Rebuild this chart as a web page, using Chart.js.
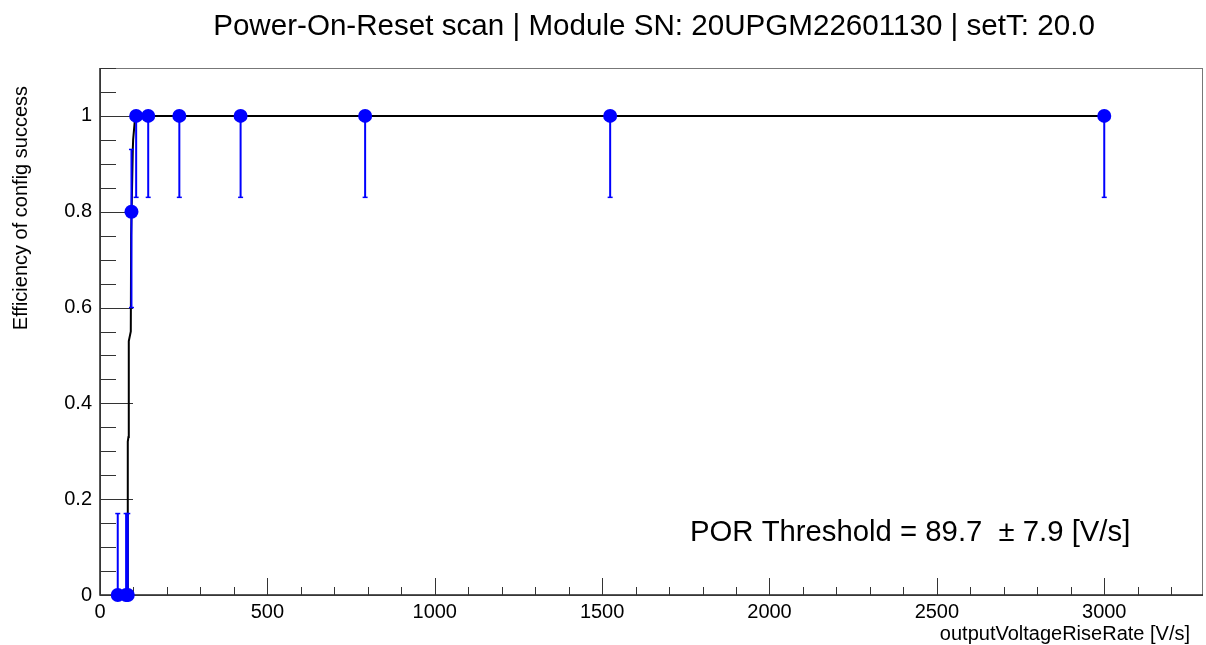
<!DOCTYPE html>
<html>
<head>
<meta charset="utf-8">
<script src="https://cdn.jsdelivr.net/npm/chart.js@4.4.1/dist/chart.umd.min.js"></script>
<style>
html,body{margin:0;padding:0;background:#fff;}
#wrap{position:relative;width:1206px;height:645px;}
</style>
</head>
<body>
<div id="wrap"><canvas id="c" width="1206" height="645"></canvas></div>
<script>
// ---- data ----
const riseRate   = [53, 78, 83, 94, 108, 144, 237, 420, 792, 1524, 3000];   // V/s
const efficiency = [0, 0, 0, 0.8, 1, 1, 1, 1, 1, 1, 1];
const effLow     = [0, 0, 0, 0.60, 0.83, 0.83, 0.83, 0.83, 0.83, 0.83, 0.83];
const effHigh    = [0.17, 0.17, 0.17, 0.93, 1, 1, 1, 1, 1, 1, 1];

const fitX = [50, 82, 83, 85, 86, 92, 93, 98, 99, 104, 105, 3000];
const fitY = [0, 0, 0.32, 0.33, 0.53, 0.55, 0.75, 0.93, 0.95, 0.99, 1.0, 1.0];

const xMajorTicks = [0, 500, 1000, 1500, 2000, 2500, 3000];
const yMajorTicks = [0, 0.2, 0.4, 0.6, 0.8, 1];

const titleText = "Power-On-Reset scan | Module SN: 20UPGM22601130 | setT: 20.0";
const xTitle = "outputVoltageRiseRate [V/s]";
const yTitle = "Efficiency of config success";
const porText = "POR Threshold = 89.7  \u00B1 7.9 [V/s]";

const FONT = "'Liberation Sans', Arial, Helvetica, sans-serif";
const X_MAX = 3295, Y_MAX = 1.1;

const pts = riseRate.map((x, i) => ({x: x, y: efficiency[i]}));
const fitPts = fitX.map((x, i) => ({x: x, y: fitY[i]}));

const errorBars = {
  id: 'errorBars',
  beforeDatasetDraw(chart, args) {
    if (args.index !== 0) return;
    const {ctx, scales: {x, y}} = chart;
    ctx.save();
    ctx.strokeStyle = '#0000ff';
    for (let i = 0; i < riseRate.length; i++) {
      const px = x.getPixelForValue(riseRate[i]);
      const lo = y.getPixelForValue(effLow[i]);
      const hi = y.getPixelForValue(effHigh[i]);
      ctx.lineWidth = 2;
      ctx.beginPath();
      ctx.moveTo(px, lo); ctx.lineTo(px, hi);
      ctx.stroke();
      ctx.lineWidth = 1.5;
      if (effLow[i] < efficiency[i]) { ctx.beginPath(); ctx.moveTo(px - 2.5, lo); ctx.lineTo(px + 2.5, lo); ctx.stroke(); }
      if (effHigh[i] > efficiency[i]) { ctx.beginPath(); ctx.moveTo(px - 2.5, hi); ctx.lineTo(px + 2.5, hi); ctx.stroke(); }
    }
    ctx.restore();
  }
};

const decor = {
  id: 'decor',
  beforeDatasetsDraw(chart) {
    const {ctx, chartArea: a, scales: {x, y}} = chart;
    ctx.save();
    // frame
    ctx.strokeStyle = '#777';
    ctx.lineWidth = 1;
    ctx.strokeRect(a.left + 0.5, a.top + 0.5, a.right - a.left - 1, a.bottom - a.top);
    // axes
    ctx.strokeStyle = '#222';
    ctx.lineWidth = 1.5;
    ctx.beginPath();
    ctx.moveTo(a.left, a.top); ctx.lineTo(a.left, a.bottom); ctx.lineTo(a.right, a.bottom);
    ctx.stroke();
    // x ticks
    ctx.lineWidth = 1;
    ctx.strokeStyle = '#333';
    for (let v = 0; v <= X_MAX; v += 100) {
      const px = Math.round(x.getPixelForValue(v)) + 0.5;
      const len = xMajorTicks.includes(v) ? 17 : 8;
      ctx.beginPath(); ctx.moveTo(px, a.bottom); ctx.lineTo(px, a.bottom - len); ctx.stroke();
    }
    // y ticks
    for (let k = 0; k <= 22; k++) {
      const v = k * 0.05;
      const py = Math.round(y.getPixelForValue(v)) + 0.5;
      const len = (k % 4 === 0) ? 33 : 16;
      ctx.beginPath(); ctx.moveTo(a.left, py); ctx.lineTo(a.left + len, py); ctx.stroke();
    }
    ctx.restore();
  },
  afterDraw(chart) {
    const {ctx} = chart;
    ctx.save();
    ctx.fillStyle = '#000';
    ctx.textBaseline = 'alphabetic';
    ctx.font = '29.6px ' + FONT;
    ctx.textAlign = 'center';
    ctx.fillText(titleText, 654, 35);
    ctx.font = '20px ' + FONT;
    ctx.textAlign = 'right';
    ctx.fillText(xTitle, 1190, 640);
    ctx.font = '29.3px ' + FONT;
    ctx.textAlign = 'left';
    ctx.fillText(porText, 690, 541);
    ctx.translate(27, 86);
    ctx.rotate(-Math.PI / 2);
    ctx.font = '20px ' + FONT;
    ctx.textAlign = 'right';
    ctx.fillText(yTitle, 0, 0);
    ctx.restore();
  }
};

new Chart(document.getElementById('c'), {
  type: 'scatter',
  data: {
    datasets: [
      {
        label: 'efficiency',
        data: pts,
        showLine: false,
        pointRadius: 7,
        pointBackgroundColor: '#0000ff',
        pointBorderColor: '#0000ff',
        pointBorderWidth: 0,
        clip: false,
        order: 0
      },
      {
        label: 'fit',
        data: fitPts,
        showLine: true,
        borderColor: '#000',
        borderWidth: 2,
        pointRadius: 0,
        fill: false,
        tension: 0,
        order: 1
      }
    ]
  },
  options: {
    responsive: false,
    animation: false,
    devicePixelRatio: 1,
    layout: {autoPadding: false, padding: {left: 0, top: 68, right: 3, bottom: 0}},
    plugins: {legend: {display: false}, tooltip: {enabled: false}, title: {display: false}},
    scales: {
      x: {
        type: 'linear', min: 0, max: X_MAX,
        grid: {display: false, drawTicks: false},
        border: {display: false},
        afterFit(s) { s.height = 50; s.paddingLeft = 0; s.paddingRight = 0; },
        afterBuildTicks(s) { s.ticks = xMajorTicks.map(v => ({value: v})); },
        ticks: {
          autoSkip: false, padding: 5, color: '#000', maxRotation: 0,
          font: {family: FONT, size: 20},
          callback: v => String(v)
        }
      },
      y: {
        type: 'linear', min: 0, max: Y_MAX,
        grid: {display: false, drawTicks: false},
        border: {display: false},
        afterFit(s) { s.width = 100; s.paddingTop = 0; s.paddingBottom = 0; },
        afterBuildTicks(s) { s.ticks = yMajorTicks.map(v => ({value: v})); },
        ticks: {
          autoSkip: false, padding: 8, color: '#000',
          font: {family: FONT, size: 20},
          callback: v => String(v)
        }
      }
    }
  },
  plugins: [errorBars, decor]
});
</script>
</body>
</html>
